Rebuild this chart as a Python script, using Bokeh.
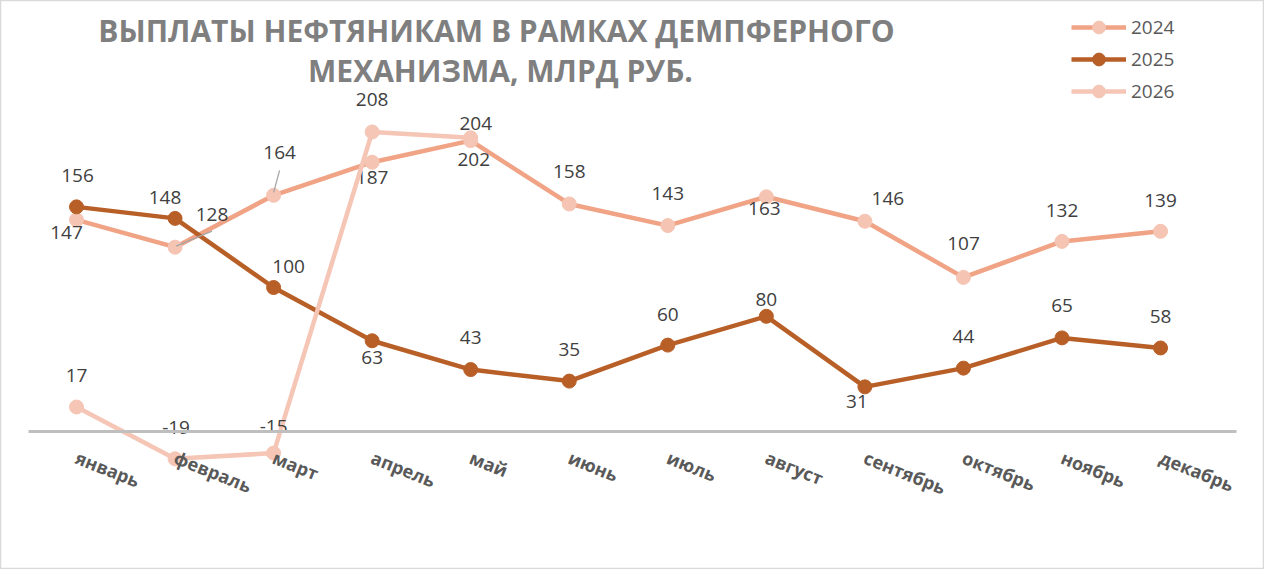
from bokeh.plotting import figure
from bokeh.models import (ColumnDataSource, Range1d, LinearAxis, FixedTicker,
                          Legend, LegendItem, Label)
from bokeh.core.properties import value
from bokeh.embed import file_html
from bokeh.resources import INLINE

months = ["январь", "февраль", "март", "апрель", "май", "июнь",
          "июль", "август", "сентябрь", "октябрь", "ноябрь", "декабрь"]
v2024 = [147, 128, 164, 187, 202, 158, 143, 163, 146, 107, 132, 139]
v2025 = [156, 148, 100, 63, 43, 35, 60, 80, 31, 44, 65, 58]
v2026 = [17, -19, -15, 208, 204]

# label offsets in px (dx, dy), dy down
off24 = [(-10, 13), (37, -33), (6, -43), (0, 15), (3, 19), (0, -32),
         (0, -32), (-2, 12), (23, -23), (0, -34), (0, -31), (0, -31)]
off25 = [(1, -31), (-10, -21), (15, -21), (0, 17), (0, -32), (0, -32),
         (0, -31), (0, -17), (-8, 15), (0, -32), (0, -32), (0, -31)]
off26 = [(0, -32), (1, -31), (0, -27), (0, -32), (5, -14)]

W, H = 1264, 569
XS = 98.55   # px per month
YS = 1.44    # px per bln rub
x0 = 76      # px of first month
y0 = 431     # px of zero line from top

p = figure(width=W, height=H, output_backend="svg", toolbar_location=None,
           x_axis_type=None, y_axis_type=None, min_border=0,
           x_range=Range1d(-x0 / XS, (W - x0) / XS),
           y_range=Range1d(-(H - y0) / YS, y0 / YS))
p.outline_line_color = "#D9D9D9"
p.outline_line_width = 1.5
p.xgrid.visible = False
p.ygrid.visible = False

xax = LinearAxis(fixed_location=0,
                 ticker=FixedTicker(ticks=list(range(len(months)))),
                 major_label_overrides={i: m for i, m in enumerate(months)},
                 bounds=((28 - x0) / XS, (1236 - x0) / XS))
xax.axis_line_color = "#BFBFBF"
xax.axis_line_width = 3
xax.major_tick_line_color = None
xax.minor_tick_line_color = None
xax.major_label_orientation = -0.38
xax.major_label_standoff = 19
xax.major_label_text_font = "Open Sans"
xax.major_label_text_font_style = "bold"
xax.major_label_text_font_size = "18px"
xax.major_label_text_color = "#595959"
p.add_layout(xax, "below")

series = [("2024", v2024, off24, "#F0A385", "#F5C4B3"),
          ("2025", v2025, off25, "#B85F27", "#B85F27"),
          ("2026", v2026, off26, "#F5C6B6", "#F5C6B6")]

items = []
for name, vals, offs, lc, mc in series:
    src = ColumnDataSource(dict(
        x=list(range(len(vals))), y=vals, t=[str(v) for v in vals],
        dx=[o[0] for o in offs], dy=[o[1] for o in offs]))
    l = p.line("x", "y", source=src, line_color=lc, line_width=4.5)
    m = p.scatter("x", "y", source=src, size=14, fill_color=mc,
                  line_color=mc)
    items.append(LegendItem(label=name, renderers=[l, m]))
    p.text("x", "y", text="t", source=src, x_offset="dx", y_offset="dy",
           text_align="center", text_baseline="middle",
           text_font=value("Open Sans"), text_font_size="19px",
           text_color="#404040")

# leader lines for 128 and 164
p.segment(x0=[1 + 1 / XS, 2], y0=[v2024[1] + 1 / YS, v2024[2] + 3 / YS],
          x1=[1 + 37 / XS, 2 + 6 / XS], y1=[v2024[1] + 16 / YS, v2024[2] + 25 / YS],
          line_color="#A6A6A6", line_width=1.3)

leg = Legend(items=items, location=(1071, 462), orientation="vertical")
leg.glyph_width = 55
leg.glyph_height = 32
leg.label_height = 20
leg.spacing = -6
leg.padding = 0
leg.margin = 0
leg.label_standoff = 5
leg.border_line_color = None
leg.background_fill_alpha = 0
leg.label_text_font = "Open Sans"
leg.label_text_font_size = "19px"
leg.label_text_color = "#595959"
p.add_layout(leg)

for txt, cx, cy in [("ВЫПЛАТЫ НЕФТЯНИКАМ В РАМКАХ ДЕМПФЕРНОГО", 496, 539),
                    ("МЕХАНИЗМА, МЛРД РУБ.", 500, 499)]:
    p.add_layout(Label(x=cx, y=cy, x_units="screen", y_units="screen",
                       text=txt, text_align="center", text_baseline="middle",
                       text_font="Open Sans", text_font_style="bold",
                       text_font_size="30px", text_color="#7F7F7F"))

open("out.html", "w").write(file_html(p, INLINE))
